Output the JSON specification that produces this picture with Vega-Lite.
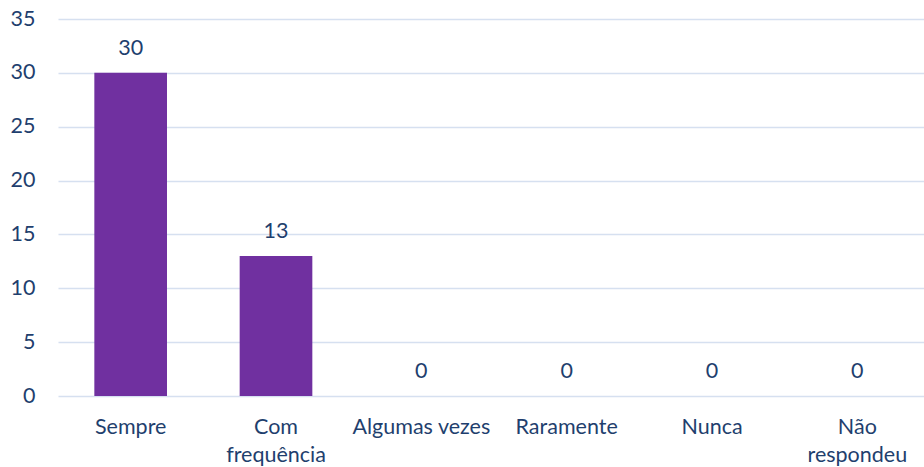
{
  "$schema": "https://vega.github.io/schema/vega-lite/v6.json",
  "autosize": "none",
  "width": 866,
  "height": 377,
  "padding": {"left": 58, "top": 19, "right": 0, "bottom": 71},
  "background": "white",
  "config": {"view": {"stroke": null}, "font": "Lato"},
  "data": {"values": [
    {"categoria": "Sempre", "n": 30},
    {"categoria": "Com frequência", "n": 13},
    {"categoria": "Algumas vezes", "n": 0},
    {"categoria": "Raramente", "n": 0},
    {"categoria": "Nunca", "n": 0},
    {"categoria": "Não respondeu", "n": 0}
  ]},
  "encoding": {
    "x": {"field": "categoria", "type": "nominal", "sort": null,
      "scale": {"range": [0, 872], "paddingInner": 0.5, "paddingOuter": 0.25},
      "axis": {"title": null, "labelAngle": 0, "domain": false, "ticks": false,
        "labelFont": "Lato", "labelFontSize": 21.5, "labelColor": "#1F3F6E", "labelPadding": 20,
        "labelExpr": "datum.value == 'Com frequência' ? ['Com', 'frequência'] : datum.value == 'Não respondeu' ? ['Não', 'respondeu'] : datum.value",
        "labelLineHeight": 28}},
    "y": {"field": "n", "type": "quantitative",
      "scale": {"domain": [0, 35]},
      "axis": {"title": null, "values": [0, 5, 10, 15, 20, 25, 30, 35], "domain": false, "ticks": false,
        "labelFont": "Lato", "labelFontSize": 21.5, "labelColor": "#1F3F6E", "labelPadding": 23,
        "gridColor": "#D6E0F0", "gridWidth": 1.5}}
  },
  "layer": [
    {"mark": {"type": "bar", "color": "#7030A0"}},
    {"mark": {"type": "text", "baseline": "alphabetic", "dy": -18, "font": "Lato", "fontSize": 21.5, "color": "#1F3F6E"},
      "encoding": {"text": {"field": "n", "type": "quantitative"}}}
  ]
}
